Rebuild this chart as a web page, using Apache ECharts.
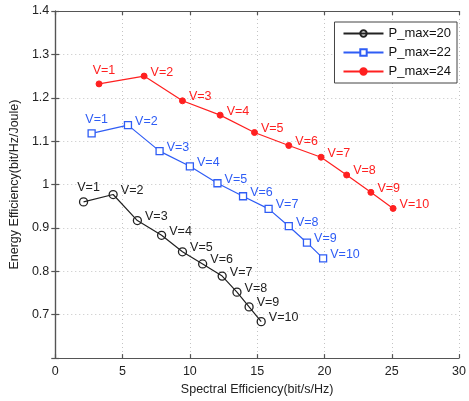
<!DOCTYPE html>
<html><head><meta charset="utf-8">
<script src="https://cdn.jsdelivr.net/npm/echarts@6/dist/echarts.min.js"></script>
<style>html,body{margin:0;padding:0;background:#fff}#c{width:469px;height:401px}</style>
</head><body><div id="c"></div>
<script>
var labels = ['V=1','V=2','V=3','V=4','V=5','V=6','V=7','V=8','V=9','V=10'];
var seriesNames = ['P_max=20','P_max=22','P_max=24'];
var se20 = [2.1, 4.3, 6.1, 7.9, 9.45, 10.95, 12.4, 13.5, 14.4, 15.3];
var ee20 = [0.960, 0.977, 0.917, 0.883, 0.845, 0.817, 0.789, 0.752, 0.718, 0.684];
var se22 = [2.7, 5.4, 7.75, 10.0, 12.05, 13.95, 15.85, 17.35, 18.7, 19.9];
var ee22 = [1.118, 1.137, 1.077, 1.042, 1.003, 0.973, 0.944, 0.904, 0.866, 0.830];
var se24 = [3.25, 6.6, 9.45, 12.25, 14.8, 17.35, 19.75, 21.65, 23.45, 25.1];
var ee24 = [1.232, 1.250, 1.193, 1.160, 1.120, 1.090, 1.063, 1.022, 0.982, 0.945];
var xTicks = [0, 5, 10, 15, 20, 25, 30];

var font = 'Liberation Sans, Arial, Helvetica, sans-serif';
function mk(xs, ys){ return xs.map(function(x,i){ return {value:[x, ys[i]], name: labels[i]}; }); }
function lbl(color){
  return {show:true, position:'right', distance:3, offset:[0,-4], color:color, fontSize:12.5, fontFamily:font,
    formatter:function(p){return p.name;}};
}
function firstLabel(d){
  d[0].label = {position:'top', distance:3, offset:[5,0]};
  return d;
}
var axisLineStyle = {color:'#555', width:1.2};
var gridLine = {show:true, lineStyle:{color:'#c4c4c4', type:[1,3], width:1}};
var chart = echarts.init(document.getElementById('c'));
var colors = ['#222222', '#2f5df5', '#ff2020'];
chart.setOption({
  animation:false,
  grid:{left:50, right:2, top:11, bottom:38, containLabel:false},
  legend:{
    data: seriesNames,
    orient:'vertical', right:12, top:22,
    backgroundColor:'#fff', borderColor:'#444', borderWidth:1,
    padding:[5,6,5,8], itemGap:6, itemWidth:40, itemHeight:8,
    textStyle:{fontSize:13, fontFamily:font, color:'#111'}
  },
  xAxis:[{
    type:'value', min:0, max:30, interval:5, position:'bottom',
    name:'Spectral Efficiency(bit/s/Hz)', nameLocation:'middle', nameGap:21,
    nameTextStyle:{fontSize:12.5, fontFamily:font, color:'#222'},
    axisLine:{show:true, lineStyle:axisLineStyle},
    axisTick:{show:true, inside:true, length:4, lineStyle:axisLineStyle},
    axisLabel:{fontSize:12.5, fontFamily:font, color:'#222', margin:7,
      formatter:function(v){ return xTicks.indexOf(v)>=0 ? String(v) : ''; }},
    splitLine:gridLine
  },{
    type:'value', min:0, max:30, interval:5, position:'top',
    axisLine:{show:true, lineStyle:axisLineStyle},
    axisTick:{show:true, inside:true, length:4, lineStyle:axisLineStyle},
    axisLabel:{show:false}, splitLine:{show:false}
  }],
  yAxis:[{
    type:'value', min:0.6, max:1.4, interval:0.1, position:'left',
    name:'Energy Efficiency(bit/Hz/Joule)', nameLocation:'middle', nameGap:31,
    nameTextStyle:{fontSize:12.5, fontFamily:font, color:'#222'},
    axisLine:{show:true, lineStyle:axisLineStyle},
    axisTick:{show:true, inside:true, length:4, lineStyle:axisLineStyle},
    axisLabel:{fontSize:12.5, fontFamily:font, color:'#222', margin:6,
      formatter:function(v){ var r = Math.round(v*10)/10; return r < 0.65 ? '' : String(r); }},
    splitLine:gridLine
  },{
    type:'value', min:0.6, max:1.4, interval:0.1, position:'right',
    axisLine:{show:true, lineStyle:axisLineStyle},
    axisTick:{show:true, inside:true, length:4, lineStyle:axisLineStyle},
    axisLabel:{show:false}, splitLine:{show:false}
  }],
  series:[{
    name:seriesNames[0], type:'line', data:firstLabel(mk(se20, ee20)),
    color:colors[0], symbol:'circle', symbolSize:8, showAllSymbol:true,
    itemStyle:{color:'rgba(255,255,255,0)', borderColor:colors[0], borderWidth:1.3},
    lineStyle:{color:colors[0], width:1.2}, label:lbl('#222'), z:3
  },{
    name:seriesNames[1], type:'line', data:firstLabel(mk(se22, ee22)),
    color:colors[1], symbol:'rect', symbolSize:7, showAllSymbol:true,
    itemStyle:{color:'#fff', borderColor:colors[1], borderWidth:1.3},
    lineStyle:{color:colors[1], width:1.2}, label:lbl(colors[1]), z:3
  },{
    name:seriesNames[2], type:'line', data:firstLabel(mk(se24, ee24)),
    color:colors[2], symbol:'circle', symbolSize:6, showAllSymbol:true,
    itemStyle:{color:colors[2], borderColor:colors[2], borderWidth:1},
    lineStyle:{color:colors[2], width:1.2}, label:lbl(colors[2]), z:3
  }]
});
</script></body></html>
